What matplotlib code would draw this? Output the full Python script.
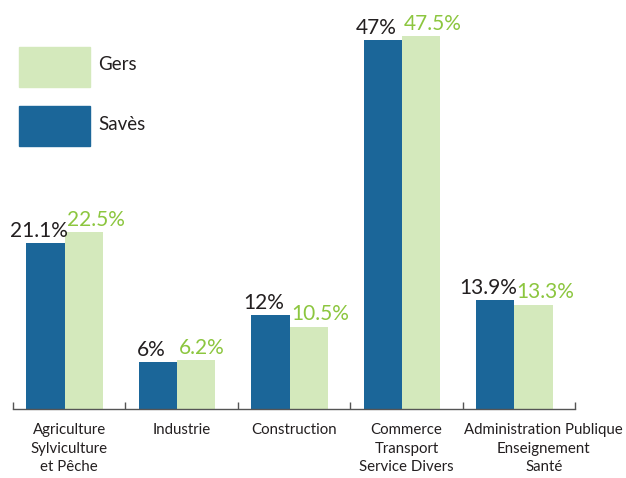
import matplotlib
matplotlib.use("Agg")
import matplotlib.pyplot as plt
import matplotlib.transforms as mtransforms
from matplotlib.patches import Rectangle
import numpy as np

categories = ["Agriculture\nSylviculture\net Pêche", "Industrie", "Construction",
              "Commerce\nTransport\nService Divers",
              "Administration Publique\nEnseignement\nSanté"]
saves = [21.1, 6, 12, 47, 13.9]
gers = [22.5, 6.2, 10.5, 47.5, 13.3]
saves_labels = ["21.1%", "6%", "12%", "47%", "13.9%"]
gers_labels = ["22.5%", "6.2%", "10.5%", "47.5%", "13.3%"]

BLUE = "#1b6699"
LGREEN = "#d4e9bc"
TGREEN = "#8cc63f"
DARK = "#231f20"

plt.rcParams['font.family'] = ['Lato', 'DejaVu Sans']

fig = plt.figure(figsize=(6.26, 4.78), dpi=100)
ax = fig.add_axes([13/626, (478-409)/478, 562/626, 409/478])

x = np.arange(len(categories))
w = 0.34
shift = -0.04
ax.bar(x + shift - w/2, saves, width=w, color=BLUE, zorder=2)
ax.bar(x + shift + w/2, gers, width=w, color=LGREEN, zorder=1)

for i in range(len(categories)):
    ax.annotate(saves_labels[i], (x[i] + shift - w/2 - 0.06, saves[i]),
                xytext=(0, 4.5), textcoords="offset points", ha="center",
                va="baseline", fontsize=15, color=DARK, zorder=3)
    ax.annotate(gers_labels[i], (x[i] + shift + 0.02, gers[i]),
                xytext=(0, 4.5), textcoords="offset points", ha="left",
                va="baseline", fontsize=15, color=TGREEN, zorder=3)

ax.set_xlim(-0.5, len(categories) - 0.5)
ax.set_ylim(0, 409/7.85)
for s in ["top", "right", "left"]:
    ax.spines[s].set_visible(False)
ax.spines["bottom"].set_color("#555555")
ax.spines["bottom"].set_linewidth(1.0)
ax.set_yticks([])

ax.set_xticks(np.arange(-0.5, len(categories), 1.0))
ax.set_xticklabels([])
ax.tick_params(axis="x", which="major", direction="in", length=5, color="#555555", width=1.0)
ax.set_xticks(x, minor=True)
ax.set_xticklabels(categories, minor=True, fontsize=10.8, color=DARK, linespacing=1.42)
ax.tick_params(axis="x", which="minor", length=0, pad=10)

labs = ax.get_xticklabels(minor=True)
offset = mtransforms.ScaledTranslation(25/100, 0, fig.dpi_scale_trans)
labs[-1].set_transform(labs[-1].get_transform() + offset)

# legend
fig.patches.append(Rectangle((19/626, 1 - 87/478), 71/626, 40/478,
                             transform=fig.transFigure, color=LGREEN))
fig.patches.append(Rectangle((19/626, 1 - 146/478), 71/626, 40/478,
                             transform=fig.transFigure, color=BLUE))
fig.text(98/626, 1 - 65/478, "Gers", fontsize=13.5, color=DARK, va="center", ha="left")
fig.text(98/626, 1 - 125/478, "Savès", fontsize=13.5, color=DARK, va="center", ha="left")

fig.savefig("out.png", dpi=100)
